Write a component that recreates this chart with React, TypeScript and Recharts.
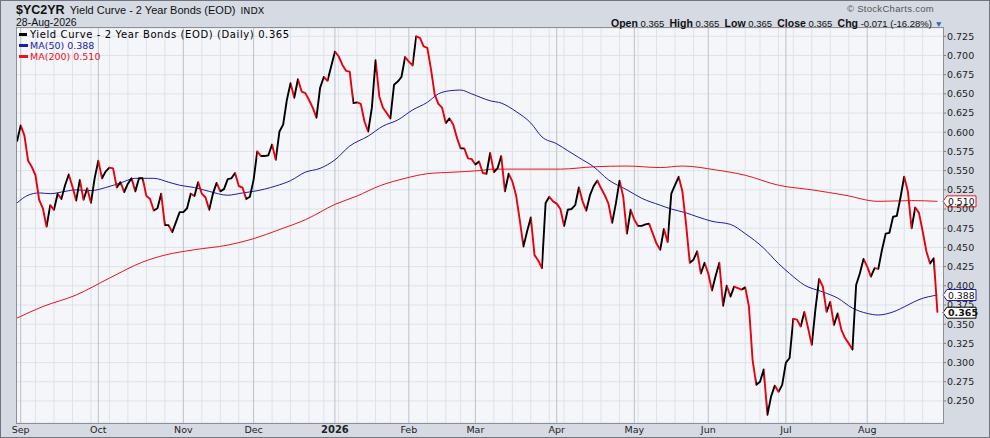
import { LineChart, Line, XAxis, YAxis, CartesianGrid, ReferenceLine } from "recharts";

// daily closes, one per trading day (index 0 = first bar on the chart)
const closes = [
  0.588, 0.609, 0.596, 0.563, 0.555, 0.544, 0.512, 0.501, 0.477, 0.505,
  0.499, 0.52, 0.513, 0.531, 0.545, 0.529, 0.511, 0.538, 0.512, 0.527,
  0.508, 0.54, 0.563, 0.54, 0.549, 0.554, 0.553, 0.528, 0.535, 0.522,
  0.533, 0.54, 0.523, 0.54, 0.54, 0.517, 0.513, 0.498, 0.501, 0.52,
  0.479, 0.479, 0.47, 0.483, 0.496, 0.496, 0.501, 0.52, 0.517, 0.535,
  0.52, 0.515, 0.499, 0.52, 0.534, 0.523, 0.526, 0.539, 0.54, 0.547,
  0.53, 0.528, 0.513, 0.516, 0.538, 0.575, 0.569, 0.569, 0.57, 0.584,
  0.564, 0.601, 0.61, 0.642, 0.664, 0.645, 0.669, 0.653, 0.651, 0.642,
  0.632, 0.619, 0.658, 0.672, 0.667, 0.686, 0.705, 0.699, 0.688, 0.68,
  0.679, 0.638, 0.639, 0.637, 0.614, 0.601, 0.632, 0.694, 0.647, 0.632,
  0.625, 0.618, 0.662, 0.666, 0.672, 0.698, 0.692, 0.687, 0.725, 0.723,
  0.712, 0.71, 0.682, 0.649, 0.637, 0.632, 0.612, 0.618, 0.61, 0.593,
  0.579, 0.579, 0.566, 0.565, 0.558, 0.562, 0.547, 0.546, 0.573, 0.548,
  0.553, 0.569, 0.523, 0.546, 0.536, 0.518, 0.486, 0.451, 0.471, 0.489,
  0.44, 0.433, 0.423, 0.508, 0.516, 0.51, 0.507, 0.5, 0.478, 0.499,
  0.5, 0.505, 0.528, 0.51, 0.498, 0.518, 0.53, 0.537, 0.527, 0.518,
  0.507, 0.482, 0.507, 0.537, 0.516, 0.468, 0.499, 0.486, 0.478, 0.478,
  0.48, 0.481, 0.468, 0.455, 0.447, 0.474, 0.457, 0.52, 0.531, 0.542,
  0.523, 0.48, 0.43, 0.434, 0.445, 0.416, 0.43, 0.416, 0.394, 0.413,
  0.43, 0.374, 0.4, 0.386, 0.399, 0.397, 0.395, 0.398, 0.373, 0.303,
  0.271, 0.275, 0.291, 0.232, 0.256, 0.27, 0.262, 0.271, 0.3, 0.306,
  0.357, 0.356, 0.347, 0.366, 0.345, 0.323, 0.37, 0.409, 0.399, 0.366,
  0.379, 0.349, 0.364, 0.343, 0.332, 0.325, 0.317, 0.401, 0.416, 0.435,
  0.425, 0.412, 0.423, 0.422, 0.447, 0.468, 0.469, 0.49, 0.491, 0.515,
  0.542, 0.523, 0.475, 0.502, 0.495, 0.471, 0.445, 0.429, 0.436, 0.365,
];

// moving averages: [bar index, value]
const ma50 = [
  [0, 0.508], [3, 0.518], [6, 0.521], [9, 0.52], [13, 0.523], [16, 0.525], [20, 0.524],
  [24, 0.528], [28, 0.534], [32, 0.54], [37, 0.54], [41, 0.535], [44, 0.531], [48, 0.528],
  [52, 0.523], [57, 0.518], [61, 0.521], [64, 0.523], [70, 0.53], [74, 0.537], [78, 0.548],
  [82, 0.553], [86, 0.564], [90, 0.582], [95, 0.595], [99, 0.608], [103, 0.616], [107, 0.629],
  [111, 0.639], [114, 0.65], [117, 0.654], [120, 0.655], [123, 0.65], [128, 0.641], [131, 0.638],
  [135, 0.627], [139, 0.612], [142, 0.594], [146, 0.585], [149, 0.576], [152, 0.567], [156, 0.555],
  [160, 0.538], [165, 0.525], [169, 0.514], [174, 0.505], [177, 0.5], [181, 0.495], [184, 0.49],
  [188, 0.484], [193, 0.48], [197, 0.468], [202, 0.449], [206, 0.429], [209, 0.416], [213, 0.401],
  [218, 0.392], [222, 0.384], [226, 0.371], [230, 0.364], [233, 0.362], [237, 0.366], [241, 0.375],
  [244, 0.382], [249, 0.388],
];

const ma200 = [
  [0, 0.358], [7, 0.373], [16, 0.388], [25, 0.41], [34, 0.431], [40, 0.44], [48, 0.447],
  [57, 0.453], [63, 0.46], [72, 0.475], [78, 0.486], [86, 0.506], [92, 0.517], [98, 0.53],
  [105, 0.54], [111, 0.546], [118, 0.548], [125, 0.55], [129, 0.552], [138, 0.552], [147, 0.552],
  [156, 0.555], [165, 0.556], [174, 0.554], [180, 0.556], [189, 0.551], [197, 0.544], [206, 0.531],
  [215, 0.525], [224, 0.518], [233, 0.51], [242, 0.511], [249, 0.51],
];

const monthTicks = [1, 22, 45, 64, 86, 106, 124, 146, 167, 187, 208, 230];
const monthLabels = ["Sep", "Oct", "Nov", "Dec", "2026", "Feb", "Mar", "Apr", "May", "Jun", "Jul", "Aug"];
const weekLines = [
  5, 10, 15, 20, 25, 30, 35, 40, 50, 55, 60, 69, 74, 79, 83, 87, 92, 97, 101, 111, 116, 120,
  129, 134, 139, 144, 148, 153, 158, 163, 168, 173, 178, 183, 192, 197, 201, 206, 210, 215,
  220, 225, 235, 240, 245,
];
const yTicks = [
  0.25, 0.275, 0.3, 0.325, 0.35, 0.375, 0.4, 0.425, 0.45, 0.475,
  0.5, 0.525, 0.55, 0.575, 0.6, 0.625, 0.65, 0.675, 0.7, 0.725,
];

const UP = "#000000";
const DOWN = "#e8000b";
const BLUE = "#1c1ca8";
const RED = "#e8141c";
const SANS = "'DejaVu Sans', Verdana, sans-serif";
const ARIAL = "'Liberation Sans', Arial, sans-serif";

const priceData = closes.map((v, i) => ({ i, v }));
const ma50Data = ma50.map(([i, v]) => ({ i, v }));
const ma200Data = ma200.map(([i, v]) => ({ i, v }));

const last = closes[closes.length - 1];
const prev = closes[closes.length - 2];
const chg = last - prev;
const lastMa50 = ma50[ma50.length - 1][1];
const lastMa200 = ma200[ma200.length - 1][1];

// hard-stop gradient: black on up days, red on down days
function upDownStops() {
  const n = closes.length - 1;
  const stops = [];
  for (let s = 1; s <= n; s++) {
    const c = closes[s] >= closes[s - 1] ? UP : DOWN;
    stops.push(<stop key={`a${s}`} offset={(s - 1) / n} stopColor={c} />);
    stops.push(<stop key={`b${s}`} offset={s / n} stopColor={c} />);
  }
  return stops;
}

function MonthTick(props: any) {
  const { x, y, payload } = props;
  const label = monthLabels[monthTicks.indexOf(payload.value)];
  const bold = label === "2026";
  return (
    <text
      x={x}
      y={y + 10}
      textAnchor="middle"
      fontFamily={SANS}
      fontSize={bold ? 10 : 9.5}
      fontWeight={bold ? "bold" : "normal"}
      fill="#222"
    >
      {label}
    </text>
  );
}

function tag(text: string, color: string, bold = false) {
  return (props: any) => {
    const vb = props.viewBox;
    if (!vb) return null;
    const x = vb.x + vb.width;
    const y = vb.y;
    return (
      <g>
        <path
          d={`M${x},${y} L${x + 4},${y - 5.5} H${x + 33} V${y + 5.5} H${x + 4} Z`}
          fill="#fff"
          stroke={color}
          strokeWidth={1}
        />
        <text
          x={x + 5}
          y={y + 3.5}
          fontFamily={SANS}
          fontSize={bold ? 9.5 : 9.3}
          fontWeight={bold ? "bold" : "normal"}
          fill="#111"
        >
          {text}
        </text>
      </g>
    );
  };
}

function LegendRow({ color, text, top }: { color: string; text: string; top: number }) {
  return (
    <div style={{ position: "absolute", left: 19, top, height: 11, display: "flex", alignItems: "center", whiteSpace: "nowrap" }}>
      <span style={{ width: 9, height: 3, background: color, display: "inline-block", marginRight: 2 }} />
      <span style={{ color, fontFamily: SANS, fontSize: 9.5, lineHeight: "11px" }}>{text}</span>
    </div>
  );
}

const bold = { fontSize: 10.5 };

export default function App() {
  return (
    <div style={{ position: "absolute", left: 0, top: 0, width: 990, height: 438, background: "#d5dae3", overflow: "hidden" }}>
      <LineChart width={990} height={438} margin={{ top: 28, right: 0, bottom: 0, left: 17 }}>
        <defs>
          <linearGradient id="upDown" x1="0" y1="0" x2="1" y2="0">
            {upDownStops()}
          </linearGradient>
        </defs>
        <CartesianGrid fill="#f4f6fa" stroke="#dfe2e9" vertical={false} />
        {weekLines.map((w) => (
          <ReferenceLine key={`w${w}`} x={w} stroke="#dfe2e9" strokeWidth={1} />
        ))}
        {monthTicks.map((m) => (
          <ReferenceLine key={`m${m}`} x={m} stroke="#bcc0c8" strokeWidth={1} />
        ))}
        <XAxis
          dataKey="i"
          type="number"
          domain={[0, 250.5]}
          allowDataOverflow
          ticks={monthTicks}
          interval={0}
          height={15}
          tickSize={0}
          tickMargin={0}
          axisLine={false}
          tickLine={false}
          tick={<MonthTick />}
        />
        <YAxis
          orientation="right"
          type="number"
          domain={[0.2213, 0.7358]}
          allowDataOverflow
          ticks={yTicks}
          interval={0}
          width={47}
          tickSize={3}
          tickMargin={1}
          axisLine={false}
          tickLine={{ stroke: "#7b808a" }}
          tickFormatter={(v: number) => v.toFixed(3)}
          tick={{ fontFamily: SANS, fontSize: 9.5, fill: "#222" }}
        />
        <Line data={ma200Data} dataKey="v" type="monotone" stroke={RED} strokeWidth={1} dot={false} isAnimationActive={false} />
        <Line data={ma50Data} dataKey="v" type="monotone" stroke={BLUE} strokeWidth={1} dot={false} isAnimationActive={false} />
        <Line
          data={priceData}
          dataKey="v"
          type="linear"
          stroke="url(#upDown)"
          strokeWidth={1.9}
          strokeLinejoin="round"
          dot={false}
          isAnimationActive={false}
        />
        <ReferenceLine y={lastMa200} stroke="none" ifOverflow="visible" label={tag(lastMa200.toFixed(3), RED)} />
        <ReferenceLine y={lastMa50} stroke="none" ifOverflow="visible" label={tag(lastMa50.toFixed(3), BLUE)} />
        <ReferenceLine y={last} stroke="none" ifOverflow="visible" label={tag(last.toFixed(3), "#000", true)} />
      </LineChart>

      {/* plot frame */}
      <div style={{ position: "absolute", left: 16, top: 27, width: 926, height: 395, border: "1px solid #8a8f99", pointerEvents: "none" }} />

      {/* header */}
      <div style={{ position: "absolute", left: 16, top: 2, height: 14, lineHeight: "14px", whiteSpace: "nowrap", fontFamily: ARIAL, color: "#111" }}>
        <span style={{ fontWeight: "bold", fontSize: 12.5 }}>$YC2YR</span>
        <span style={{ fontSize: 11, marginLeft: 5 }}>Yield Curve - 2 Year Bonds (EOD)</span>
        <span style={{ fontSize: 9.5, marginLeft: 5, fontFamily: SANS }}>INDX</span>
      </div>
      <div style={{ position: "absolute", left: 16, top: 17, lineHeight: "11px", fontFamily: ARIAL, fontSize: 10.5, color: "#111" }}>
        28-Aug-2026
      </div>
      <div style={{ position: "absolute", right: 56, top: 3, lineHeight: "11px", fontFamily: ARIAL, fontSize: 9.5, color: "#555", letterSpacing: 0.3 }}>
        © StockCharts.com
      </div>
      <div style={{ position: "absolute", right: 47, top: 17, lineHeight: "12px", whiteSpace: "nowrap", fontFamily: ARIAL, fontSize: 9.5, color: "#111" }}>
        <b style={bold}>Open</b> {last.toFixed(3)}&nbsp; <b style={bold}>High</b> {last.toFixed(3)}&nbsp;{" "}
        <b style={bold}>Low</b> {last.toFixed(3)}&nbsp; <b style={bold}>Close</b> {last.toFixed(3)}&nbsp;{" "}
        <b style={bold}>Chg</b> {chg.toFixed(3)} ({((chg / prev) * 100).toFixed(2)}%){" "}
        <span style={{ color: "#3b63b0", fontSize: 8.5 }}>▼</span>
      </div>

      {/* legend */}
      <div style={{ position: "absolute", left: 19, top: 29, height: 11, display: "flex", alignItems: "center", whiteSpace: "nowrap" }}>
        <span style={{ width: 8, height: 3, background: "#000", display: "inline-block", marginRight: 3 }} />
        <span style={{ fontFamily: SANS, fontSize: 10, lineHeight: "11px", letterSpacing: 0.6, color: "#000" }}>
          Yield Curve - 2 Year Bonds (EOD) (Daily) {last.toFixed(3)}
        </span>
      </div>
      <LegendRow color={BLUE} text={`MA(50) ${lastMa50.toFixed(3)}`} top={40} />
      <LegendRow color={RED} text={`MA(200) ${lastMa200.toFixed(3)}`} top={51} />

      {/* outer frame */}
      <div style={{ position: "absolute", left: 0, top: 0, width: 988, height: 436, border: "1px solid #70757f", pointerEvents: "none" }} />
    </div>
  );
}
